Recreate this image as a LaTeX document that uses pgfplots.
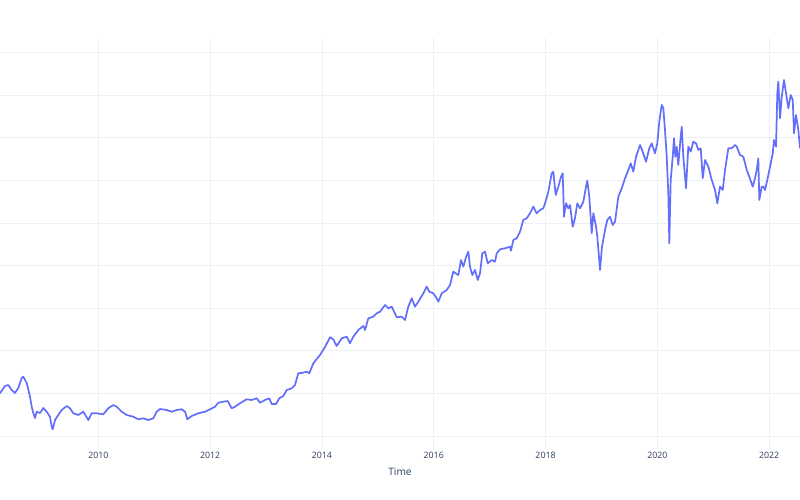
\documentclass[border=0pt]{standalone}
\usepackage{pgfplots}
\usepackage{pgfplotstable}
\pgfplotsset{compat=1.18}
\usepackage{fontspec}
\setmainfont{Open Sans}
\definecolor{plotline}{HTML}{636EFA}
\definecolor{gridc}{HTML}{EBF0F8}
\definecolor{fontc}{HTML}{2A3F5F}

\pgfplotstableread{
year value
2008.241 20.05
2008.330 23.48
2008.390 23.94
2008.450 21.60
2008.509 20.19
2008.568 22.54
2008.629 27.23
2008.658 27.84
2008.719 24.88
2008.778 18.45
2008.808 13.76
2008.837 10.80
2008.867 8.45
2008.898 11.41
2008.957 10.80
2009.016 13.15
2009.076 11.41
2009.135 9.06
2009.166 4.37
2009.184 3.15
2009.225 7.51
2009.284 9.86
2009.345 12.21
2009.434 14.09
2009.493 13.01
2009.552 10.66
2009.642 9.86
2009.731 11.41
2009.821 7.51
2009.881 10.66
2009.971 10.66
2010.089 10.19
2010.178 13.01
2010.268 14.55
2010.329 13.76
2010.418 11.41
2010.508 9.86
2010.626 9.06
2010.715 7.84
2010.805 8.31
2010.894 7.51
2010.983 8.31
2011.044 11.41
2011.103 12.68
2011.223 12.21
2011.313 11.41
2011.402 12.21
2011.491 12.54
2011.551 11.41
2011.592 7.84
2011.670 9.39
2011.788 10.66
2011.908 11.41
2011.998 12.54
2012.087 13.76
2012.146 15.63
2012.236 16.10
2012.314 16.43
2012.386 13.01
2012.445 13.76
2012.534 15.35
2012.654 17.23
2012.744 16.90
2012.833 17.70
2012.892 15.63
2012.982 16.90
2013.059 17.70
2013.102 15.02
2013.178 15.02
2013.237 17.70
2013.309 18.78
2013.370 21.60
2013.459 22.40
2013.518 23.94
2013.577 29.44
2013.667 29.72
2013.728 30.19
2013.774 29.44
2013.846 34.13
2013.907 36.15
2013.966 38.03
2014.055 41.79
2014.144 46.34
2014.203 45.40
2014.264 42.26
2014.354 45.87
2014.443 46.62
2014.502 43.52
2014.561 46.62
2014.651 49.77
2014.740 51.65
2014.771 49.77
2014.830 55.26
2014.919 56.01
2014.980 57.61
2015.039 58.36
2015.128 61.50
2015.187 59.95
2015.248 60.71
2015.338 55.73
2015.427 56.01
2015.486 54.46
2015.545 60.71
2015.606 64.65
2015.665 60.71
2015.724 63.05
2015.814 67.00
2015.874 70.10
2015.921 67.75
2015.992 67.00
2016.053 64.65
2016.082 63.05
2016.143 67.00
2016.232 68.55
2016.291 70.89
2016.350 77.14
2016.411 76.06
2016.440 75.59
2016.488 82.63
2016.529 79.49
2016.590 84.98
2016.619 86.53
2016.649 79.49
2016.690 75.59
2016.738 77.94
2016.787 73.24
2016.828 76.39
2016.869 85.78
2016.917 86.53
2016.966 81.08
2017.037 82.63
2017.096 81.83
2017.127 85.78
2017.186 87.65
2017.275 88.12
2017.364 88.88
2017.382 87.00
2017.424 92.02
2017.484 92.82
2017.543 95.92
2017.602 101.41
2017.663 102.21
2017.722 104.56
2017.781 107.66
2017.842 104.56
2017.901 106.11
2017.960 106.90
2017.991 109.25
2018.050 114.70
2018.110 123.34
2018.139 124.09
2018.182 113.15
2018.229 117.05
2018.277 121.74
2018.307 123.34
2018.330 102.96
2018.366 109.25
2018.407 106.90
2018.438 108.45
2018.486 98.27
2018.527 102.21
2018.568 109.25
2018.617 106.90
2018.676 110.00
2018.724 117.05
2018.747 119.86
2018.783 112.35
2018.826 95.17
2018.855 104.56
2018.903 98.27
2018.926 93.57
2018.975 77.94
2019.010 88.88
2019.064 96.72
2019.105 101.41
2019.153 102.96
2019.202 99.06
2019.243 100.61
2019.302 112.35
2019.363 116.30
2019.422 120.99
2019.481 124.89
2019.524 128.03
2019.570 124.09
2019.619 131.13
2019.690 136.62
2019.738 133.48
2019.797 128.78
2019.856 135.08
2019.899 137.42
2019.958 132.73
2019.999 137.42
2020.035 147.56
2020.078 155.40
2020.107 153.86
2020.137 143.67
2020.168 131.13
2020.196 113.95
2020.214 90.47
2020.239 120.19
2020.275 131.13
2020.298 139.77
2020.321 131.13
2020.346 135.82
2020.375 127.23
2020.418 140.52
2020.436 145.22
2020.465 131.13
2020.513 116.30
2020.554 135.82
2020.597 133.48
2020.643 138.17
2020.692 137.42
2020.733 134.28
2020.776 135.08
2020.812 120.99
2020.853 129.58
2020.912 126.44
2020.973 120.19
2021.032 115.50
2021.073 109.25
2021.121 117.05
2021.169 115.50
2021.211 124.89
2021.270 135.08
2021.330 135.08
2021.390 136.62
2021.420 135.82
2021.479 131.93
2021.538 131.13
2021.599 124.89
2021.645 121.74
2021.706 117.05
2021.747 120.99
2021.778 124.89
2021.806 130.38
2021.824 110.80
2021.867 117.05
2021.896 117.05
2021.926 115.50
2021.967 120.19
2022.016 126.44
2022.064 132.73
2022.087 138.97
2022.123 135.82
2022.146 160.90
2022.164 166.34
2022.195 149.16
2022.225 159.30
2022.266 167.14
2022.302 160.90
2022.343 153.86
2022.386 160.10
2022.422 157.75
2022.445 142.12
2022.481 150.71
2022.522 143.67
2022.552 135.08
}\datatable

\begin{document}
\begin{tikzpicture}
\fill[white] (0,0) rectangle (800pt,500pt);
\useasboundingbox (0,0) rectangle (800pt,500pt);
\begin{axis}[
  at={(0pt,51pt)}, anchor=south west,
  scale only axis, width=800pt, height=411pt,
  xmin=2008.241, xmax=2022.552,
  ymin=-6.10, ymax=186.86,
  axis line style={draw=none},
  major tick length=0pt,
  xtick={2010,2012,2014,2016,2018,2020,2022},
  xticklabels={2010,2012,2014,2016,2018,2020,2022},
  ytick={0,20,40,60,80,100,120,140,160,180},
  yticklabels={},
  grid=major,
  major grid style={color=gridc, line width=0.75pt},
  xticklabel style={font=\fontsize{8.8}{10}\selectfont, text=fontc, inner sep=0pt, anchor=north, yshift=-3pt},
  xlabel={Time},
  xlabel style={font=\fontsize{10.2}{12}\selectfont, text=fontc, inner sep=0pt, anchor=center, at={(axis description cs:0.5,0)}, yshift=-23pt},
]
\addplot[color=plotline, line width=1.7pt, line join=round, no marks] table[x=year, y=value] {\datatable};
\end{axis}
\end{tikzpicture}
\end{document}
